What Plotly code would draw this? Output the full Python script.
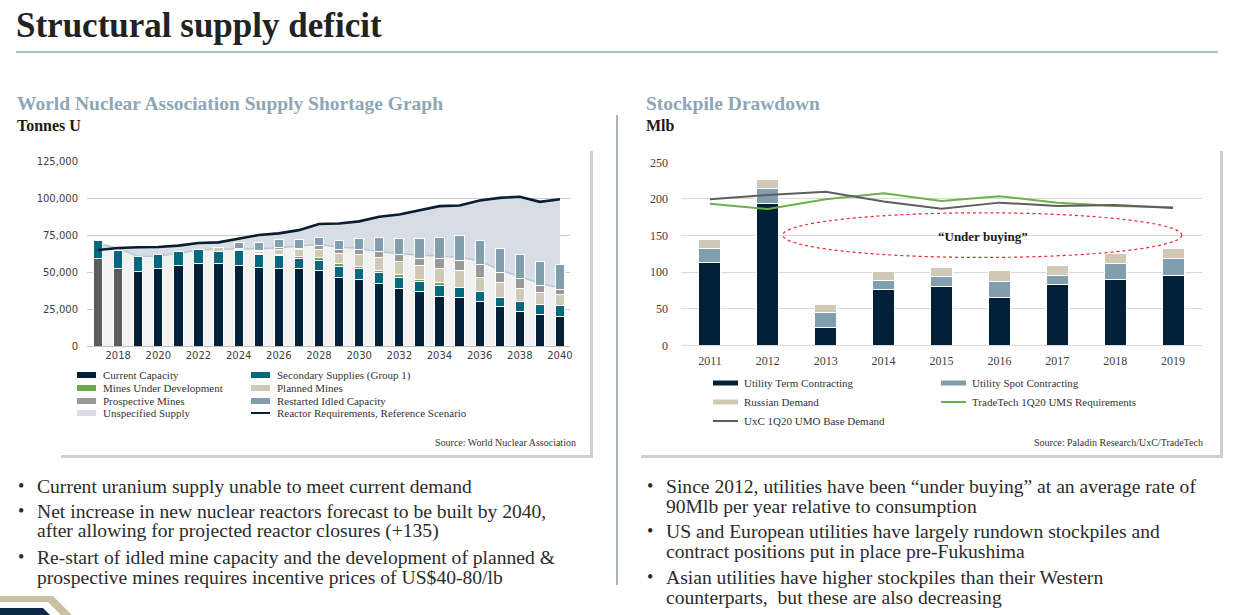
import plotly.graph_objects as go

W, H = 1237, 615

# ---------------- Left chart data (tonnes U) ----------------
years_l = list(range(2017, 2041))
current_capacity = [59000, 52500, 50300, 52500, 54300, 55700, 55700, 54300, 53200, 52500, 52500, 51000,
                    46200, 44900, 42200, 38800, 36800, 33700, 32800, 30100, 26700, 23300, 21500, 20200]
secondary_supplies = [12200, 11900, 10100, 9200, 9400, 9400, 8000, 10100, 8500, 8600, 6500, 7100,
                      7700, 7200, 7400, 7700, 7000, 7200, 6900, 6700, 6100, 6800, 6600, 7200]
mines_under_dev = [0, 0, 0, 0, 0, 0, 0, 0, 1000, 900, 1800, 1800,
                   2000, 1500, 1400, 1800, 1300, 2000, 0, 0, 0, 0, 0, 0]
planned_mines = [0, 0, 0, 0, 0, 0, 2700, 800, 1000, 2900, 4500, 5000,
                 6700, 8400, 8700, 8900, 9400, 9600, 11300, 9400, 10100, 8700, 8000, 7400]
prospective_mines = [0, 0, 0, 0, 0, 0, 0, 500, 500, 1500, 700, 2900,
                     2700, 3300, 4000, 4500, 4800, 6300, 6700, 8800, 6700, 6800, 4800, 3400]
restarted_idled = [0, 0, 0, 0, 0, 0, 0, 4500, 5500, 5700, 6000, 5400,
                   6100, 7400, 9500, 11000, 13400, 14600, 16800, 16400, 16200, 16100, 16100, 16800]
supply_boundary = [69400, 66000, 60400, 60800, 62600, 64900, 65500, 65500, 65500, 66400, 67800, 68700,
                   66700, 66000, 63700, 62600, 61300, 60800, 59900, 57500, 51400, 46900, 42400, 39100]
reactor_requirements = [64900, 66200, 66700, 66900, 67800, 69600, 70000, 72700, 75000, 76100, 78300, 82400,
                        82800, 84200, 87300, 88900, 91600, 94500, 94900, 98300, 100100, 100800, 97400, 99200]
left_xticks = list(range(2018, 2041, 2))
left_yticks = [0, 25000, 50000, 75000, 100000, 125000]
left_ytext = ["0", "25,000", "50,000", "75,000", "100,000", "125,000"]

# ---------------- Right chart data (Mlb) ----------------
years_r = list(range(2011, 2020))
term_contracting = [112.5, 194, 23.7, 76.5, 80.6, 65.6, 82.4, 90.2, 95.6]
spot_contracting = [19.1, 20, 20.5, 12.3, 13.2, 21.8, 12.8, 21.8, 22.8]
russian_demand = [12.3, 12.8, 11.8, 12.3, 12.8, 14.6, 13.2, 13.2, 13.7]
tradetech_req = [193.5, 186.2, 199.5, 207.7, 197.2, 203.6, 194.9, 190.3, 188.5]
uxc_demand = [199.5, 205.4, 209.9, 196.3, 186.7, 194.9, 190.3, 191.7, 187.6]
right_yticks = [0, 50, 100, 150, 200, 250]

C_CUR = "#022138"
C_SEC = "#02697f"
C_DEV = "#6aa84f"
C_PLAN = "#cfc9b6"
C_PROS = "#999999"
C_REST = "#819eaf"
C_UNSP = "#d6dde4"
C_HIST = "#595d5f"


def X(px):
    return px / W


def Y(py):
    return 1 - py / H


def nz(vals):
    return [v if v else None for v in vals]


fig = go.Figure()

# areas (base axes, drawn under bars)
fig.add_trace(go.Scatter(x=years_l, y=supply_boundary, mode="lines", fill="tozeroy",
                         fillcolor="#f1f1f1", line=dict(color="#b8c7d2", width=1.5),
                         xaxis="x", yaxis="y", showlegend=False, hoverinfo="skip"))
fig.add_trace(go.Scatter(x=years_l, y=reactor_requirements, mode="lines", fill="tonexty",
                         fillcolor=C_UNSP, line=dict(width=0, color=C_UNSP),
                         xaxis="x", yaxis="y", name="Unspecified Supply", showlegend=False))

# stacked bars (overlay axes)
cur_colors = [C_HIST if y <= 2018 else C_CUR for y in years_l]
left_series = [
    ("Current Capacity", current_capacity, cur_colors),
    ("Secondary Supplies (Group 1)", secondary_supplies, C_SEC),
    ("Mines Under Development", mines_under_dev, C_DEV),
    ("Planned Mines", planned_mines, C_PLAN),
    ("Prospective Mines", prospective_mines, C_PROS),
    ("Restarted Idled Capacity", restarted_idled, C_REST),
]
for name, vals, col in left_series:
    fig.add_trace(go.Bar(x=years_l, y=nz(vals), name=name, width=0.46,
                         marker=dict(color=col, line=dict(color="white", width=1)),
                         xaxis="x3", yaxis="y3", showlegend=False))
fig.add_trace(go.Scatter(x=years_l, y=reactor_requirements, mode="lines",
                         name="Reactor Requirements, Reference Scenario",
                         line=dict(color="#0b1d30", width=2.6), xaxis="x3", yaxis="y3",
                         showlegend=False))

# right chart
for name, vals, col in [("Utility Term Contracting", term_contracting, C_CUR),
                        ("Utility Spot Contracting", spot_contracting, C_REST),
                        ("Russian Demand", russian_demand, C_PLAN)]:
    fig.add_trace(go.Bar(x=years_r, y=vals, name=name, width=0.38,
                         marker=dict(color=col, line=dict(color="white", width=1)),
                         xaxis="x2", yaxis="y2", showlegend=False))
fig.add_trace(go.Scatter(x=years_r, y=tradetech_req, mode="lines", name="TradeTech 1Q20 UMS Requirements",
                         line=dict(color="#6db04a", width=2), xaxis="x2", yaxis="y2", showlegend=False))
fig.add_trace(go.Scatter(x=years_r, y=uxc_demand, mode="lines", name="UxC 1Q20 UMO Base Demand",
                         line=dict(color="#5e5e5e", width=2), xaxis="x2", yaxis="y2", showlegend=False))

shapes = []
annotations = []

# panels with shadows
for (x0, y0, x1, y1) in [(58, 148, 590, 455), (638, 148, 1220, 455)]:
    shapes.append(dict(type="rect", xref="paper", yref="paper", x0=X(x0 + 3), x1=X(x1 + 3),
                       y0=Y(y1 + 3), y1=Y(y0 + 3), fillcolor="#cfcfcf", line=dict(width=0), layer="below"))
    shapes.append(dict(type="rect", xref="paper", yref="paper", x0=X(x0), x1=X(x1),
                       y0=Y(y1), y1=Y(y0), fillcolor="white", line=dict(width=0),
                       layer="below"))

# title rule and divider
shapes.append(dict(type="line", xref="paper", yref="paper", x0=X(16), x1=X(1218), y0=Y(52), y1=Y(52),
                   line=dict(color="#8fa9bb", width=1.5)))
shapes.append(dict(type="line", xref="paper", yref="paper", x0=X(617), x1=X(617), y0=Y(115), y1=Y(585),
                   line=dict(color="#8a9aa8", width=1.5)))

# ellipse "Under buying"
shapes.append(dict(type="circle", xref="x2", yref="y2", x0=2012.26, x1=2019.15, y0=120, y1=181,
                   line=dict(color="#e8262b", width=1.2, dash="dot")))
annotations.append(dict(x=2015.72, y=148, xref="x2", yref="y2", text="<b>“Under buying”</b>",
                        showarrow=False, font=dict(family="Liberation Serif", size=13, color="#1a1a1a")))


def txt(x, y, s, size, color="#222222", family="Liberation Serif", bold=False, xanchor="left"):
    annotations.append(dict(x=X(x), y=Y(y), xref="paper", yref="paper", text=("<b>%s</b>" % s) if bold else s,
                            showarrow=False, xanchor=xanchor, yanchor="middle",
                            font=dict(family=family, size=size, color=color)))


# headings
txt(14, 25, "Structural supply deficit", 35, "#222222", bold=True)
txt(15, 104, "World Nuclear Association Supply Shortage Graph", 19.5, "#8fa6b6", bold=True)
txt(15, 126, "Tonnes U", 16, "#1a1a1a", bold=True)
txt(644, 104, "Stockpile Drawdown", 19.5, "#8fa6b6", bold=True)
txt(644, 126, "Mlb", 16, "#1a1a1a", bold=True)

# left legend
leg_l = [
    (77, 375, "rect", C_CUR, "Current Capacity"),
    (77, 388, "rect", C_DEV, "Mines Under Development"),
    (77, 401, "rect", C_PROS, "Prospective Mines"),
    (77, 413, "rect", "#d9dee4", "Unspecified Supply"),
    (251, 375, "rect", C_SEC, "Secondary Supplies (Group 1)"),
    (251, 388, "rect", C_PLAN, "Planned Mines"),
    (251, 401, "rect", C_REST, "Restarted Idled Capacity"),
    (251, 413, "line", "#0b1d30", "Reactor Requirements, Reference Scenario"),
]
for (x, y, kind, col, label) in leg_l:
    if kind == "rect":
        shapes.append(dict(type="rect", xref="paper", yref="paper", x0=X(x), x1=X(x + 19),
                           y0=Y(y + 3), y1=Y(y - 3), fillcolor=col, line=dict(width=0)))
    else:
        shapes.append(dict(type="line", xref="paper", yref="paper", x0=X(x), x1=X(x + 19),
                           y0=Y(y), y1=Y(y), line=dict(color=col, width=2)))
    txt(x + 24, y, label, 11, "#333333")
txt(578, 442, "Source: World Nuclear Association", 10, "#333333", xanchor="right")

# right legend
leg_r = [
    (713, 383, "rect", C_CUR, "Utility Term Contracting"),
    (713, 402, "rect", C_PLAN, "Russian Demand"),
    (713, 421, "line", "#5e5e5e", "UxC 1Q20 UMO Base Demand"),
    (941, 383, "rect", C_REST, "Utility Spot Contracting"),
    (941, 402, "line", "#6db04a", "TradeTech 1Q20 UMS Requirements"),
]
for (x, y, kind, col, label) in leg_r:
    if kind == "rect":
        shapes.append(dict(type="rect", xref="paper", yref="paper", x0=X(x), x1=X(x + 25),
                           y0=Y(y + 2.5), y1=Y(y - 2.5), fillcolor=col, line=dict(width=0)))
    else:
        shapes.append(dict(type="line", xref="paper", yref="paper", x0=X(x), x1=X(x + 25),
                           y0=Y(y), y1=Y(y), line=dict(color=col, width=2)))
    txt(x + 29, y, label, 11, "#333333")
txt(1205, 442, "Source: Paladin Research/UxC/TradeTech", 10, "#333333", xanchor="right")

# bullets
left_lines = [
    (486, True, "Current uranium supply unable to meet current demand"),
    (511, True, "Net increase in new nuclear reactors forecast to be built by 2040,"),
    (531, False, "after allowing for projected reactor closures (+135)"),
    (557, True, "Re-start of idled mine capacity and the development of planned &amp;"),
    (577, False, "prospective mines requires incentive prices of US$40-80/lb"),
]
right_lines = [
    (486, True, "Since 2012, utilities have been “under buying” at an average rate of"),
    (506, False, "90Mlb per year relative to consumption"),
    (531, True, "US and European utilities have largely rundown stockpiles and"),
    (551, False, "contract positions put in place pre-Fukushima"),
    (577, True, "Asian utilities have higher stockpiles than their Western"),
    (597, False, "counterparts,  but these are also decreasing"),
]
for (bx, tx, lines) in [(16, 35, left_lines), (645, 664, right_lines)]:
    for (y, bullet, s) in lines:
        if bullet:
            txt(bx, y, "•", 18, "#2b2b2b")
        txt(tx, y, s, 19.6, "#2b2b2b")

# logo corner
shapes.append(dict(type="path", xref="paper", yref="paper",
                   path="M %f,%f L %f,%f L %f,%f L %f,%f L %f,%f L %f,%f Z" % (
                       X(0), Y(596), X(53), Y(596), X(72), Y(615), X(61), Y(615), X(48), Y(602), X(0), Y(602)),
                   fillcolor="#c9c1a2", line=dict(width=0)))
shapes.append(dict(type="path", xref="paper", yref="paper",
                   path="M %f,%f L %f,%f L %f,%f L %f,%f Z" % (
                       X(0), Y(608), X(43), Y(608), X(50), Y(615), X(0), Y(615)),
                   fillcolor="#0d2a45", line=dict(width=0)))

axis_font_l = dict(family="DejaVu Sans", size=10, color="#404040")
axis_font_r = dict(family="Liberation Serif", size=12, color="#404040")

fig.update_layout(
    width=W, height=H, margin=dict(l=0, r=0, t=0, b=0, pad=0, autoexpand=False),
    paper_bgcolor="white", plot_bgcolor="rgba(0,0,0,0)",
    barmode="stack", bargap=0.5, showlegend=False,
    shapes=shapes, annotations=annotations,
    xaxis=dict(domain=[X(87), X(570)], range=[2016.45, 2040.5], anchor="y", automargin=False,
               tickvals=left_xticks, tickfont=axis_font_l, showgrid=False,
               showline=True, linecolor="#bfbfbf", linewidth=1, ticks="", ticklabelstandoff=0),
    yaxis=dict(domain=[Y(346), Y(161)], range=[0, 125000], anchor="x", automargin=False,
               tickvals=left_yticks, ticktext=left_ytext, tickfont=axis_font_l,
               showgrid=True, gridcolor="#cccccc", gridwidth=1, zeroline=False, ticks="",
               ticklabelstandoff=8),
    xaxis3=dict(overlaying="x", range=[2016.45, 2040.5], visible=False, anchor="y3", automargin=False),
    yaxis3=dict(overlaying="y", range=[0, 125000], visible=False, anchor="x3", automargin=False),
    xaxis2=dict(domain=[X(681), X(1202)], range=[2010.5, 2019.5], anchor="y2", automargin=False,
                tickvals=years_r, tickfont=axis_font_r, showgrid=False,
                showline=True, linecolor="#d9d9d9", ticks="", ticklabelstandoff=4),
    yaxis2=dict(domain=[Y(345.3), Y(162.3)], range=[0, 250], anchor="x2", automargin=False,
                tickvals=right_yticks, tickfont=axis_font_r, showgrid=True,
                gridcolor="#d9d9d9", zeroline=False, ticks="", ticklabelstandoff=12),
)

fig.write_html("out.html", config={"displayModeBar": False},
               post_script="document.body.style.margin='0';document.body.style.overflow='hidden';")
